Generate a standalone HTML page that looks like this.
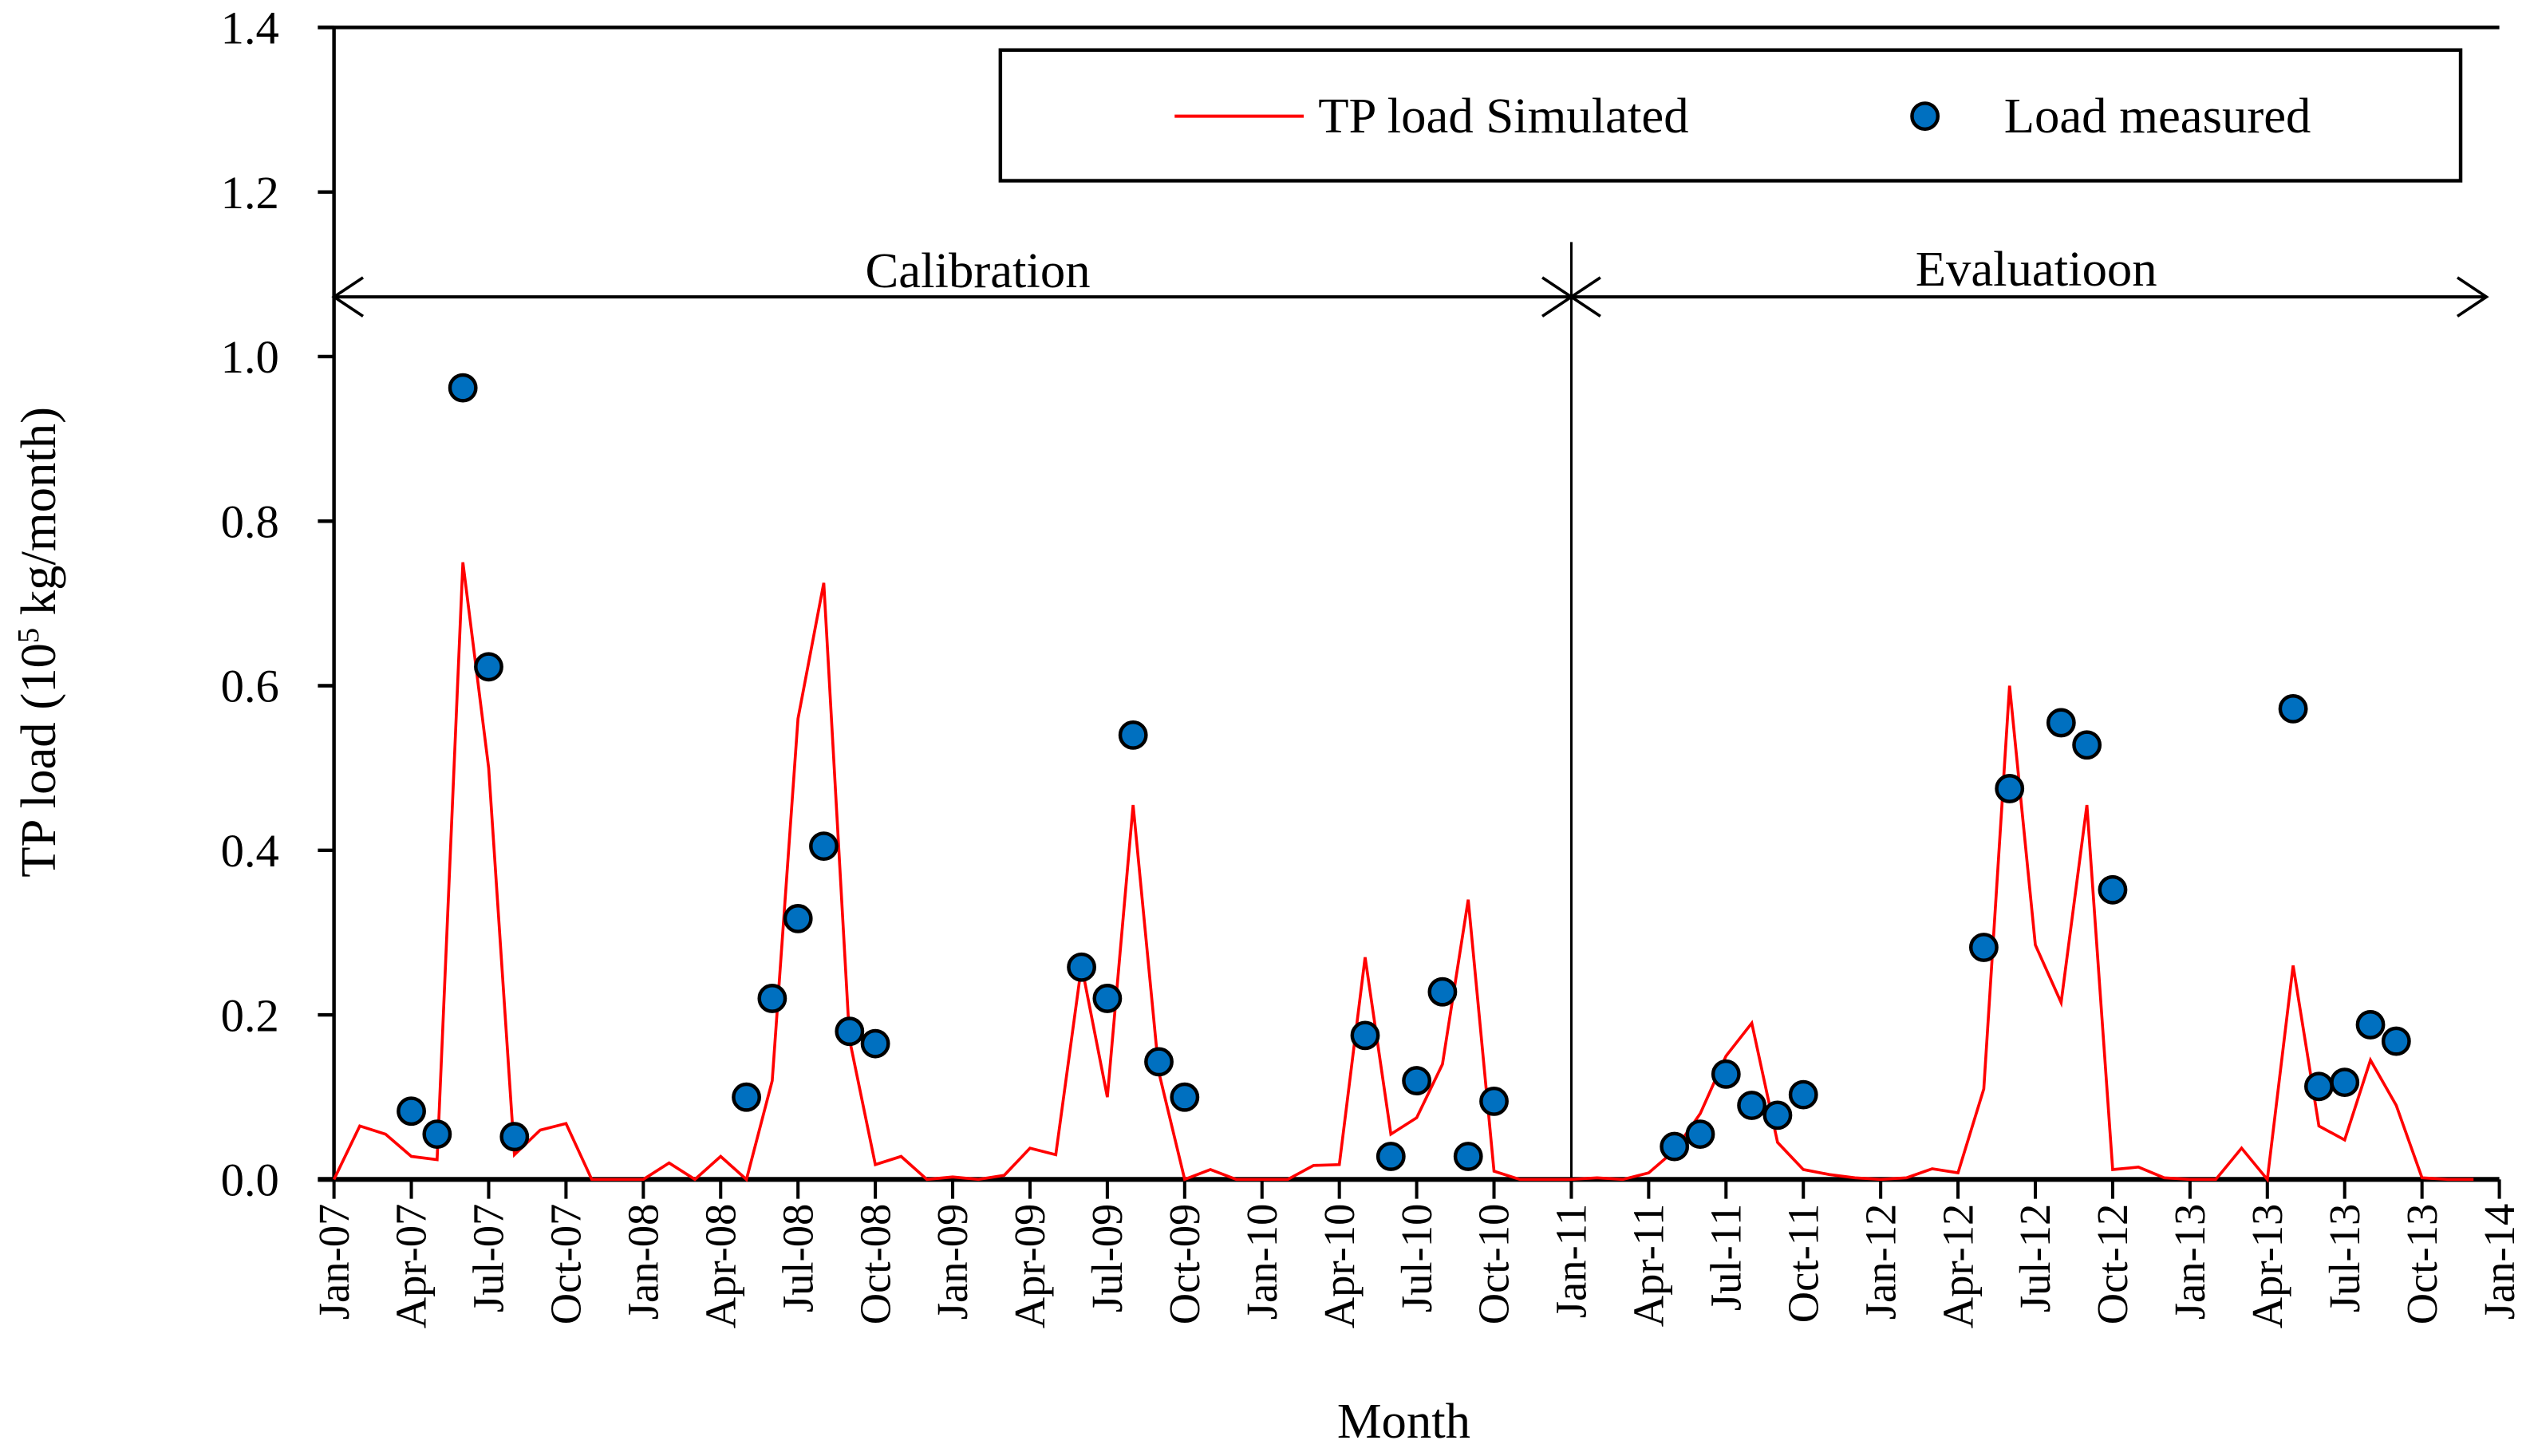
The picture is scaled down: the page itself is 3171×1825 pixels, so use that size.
<!DOCTYPE html>
<html><head><meta charset="utf-8"><style>html,body{margin:0;padding:0;background:#fff}svg{display:block}</style></head>
<body>
<svg width="3171" height="1825" viewBox="0 0 1568 902.4" xmlns="http://www.w3.org/2000/svg" font-family="'Liberation Serif', serif">
<g id="root"></g>
</svg>
<script>
const yearsShort = ['07','08','09','10','11','12','13','14'];
const monthNames = ['Jan','Apr','Jul','Oct'];
const simulated = [
0,0.065,0.055,0.028,0.024,0.75,0.5,0.03,0.06,0.068,0,0,
0,0.02,0,0.028,0,0.12,0.56,0.725,0.17,0.018,0.028,0,
0.003,0,0.005,0.038,0.03,0.26,0.1,0.455,0.13,0,0.012,0,
0,0,0.017,0.018,0.27,0.055,0.075,0.14,0.34,0.01,0,0,
0,0.002,0,0.008,0.035,0.08,0.15,0.19,0.045,0.012,0.006,0.002,
0,0.002,0.013,0.008,0.11,0.6,0.285,0.215,0.455,0.012,0.015,0.002,
0,0,0.038,0,0.26,0.065,0.048,0.145,0.09,0.002,0,0];
const measuredMonth = [3,4,5,6,7,16,17,18,19,20,21,29,30,31,32,33,40,41,42,43,44,45,52,53,54,55,56,57,64,65,67,68,69,76,77,78,79,80];
const measuredValue = [0.083,0.055,0.962,0.623,0.052,0.1,0.22,0.317,0.405,0.18,0.165,0.258,0.22,0.54,0.143,0.1,0.175,0.028,0.12,0.228,0.028,0.095,0.04,0.055,0.128,0.09,0.078,0.103,0.282,0.475,0.555,0.528,0.352,0.572,0.113,0.118,0.188,0.168];
const yTicks = ['0.0','0.2','0.4','0.6','0.8','1.0','1.2','1.4'];

const NS='http://www.w3.org/2000/svg';
const root=document.getElementById('root');
const X0=207,X1=1549,Y0=731,Y1=17;
const xs=i=>X0+(X1-X0)*i/84;
const ys=v=>Y0-(Y0-Y1)*v/1.4;
function mk(tag,attrs,parent){const e=document.createElementNS(NS,tag);for(const k in attrs)e.setAttribute(k,attrs[k]);(parent||root).appendChild(e);return e;}

let e=mk('line',{x1:X0,y1:Y1,x2:X0,y2:Y0,stroke:'#000','stroke-width':2.2});


e=mk('line',{x1:X0-10,y1:Y1,x2:X1,y2:Y1,stroke:'#000','stroke-width':2.2});


e=mk('line',{x1:X0-10,y1:Y0,x2:X1,y2:Y0,stroke:'#000','stroke-width':3});



yTicks.forEach((t,i)=>{
  const v=parseFloat(t);
  let l=mk('line',{x1:X0-10,y1:ys(v),x2:X0,y2:ys(v),stroke:'#000','stroke-width':2.2});
  
  
  let tx=mk('text',{x:173,y:ys(v)+10,'text-anchor':'end','font-size':29});
  tx.textContent=t;
  
  
});
for(let q=0;q<=28;q++){
  const i=q*3;const x=xs(i);
  let l=mk('line',{x1:x,y1:Y0,x2:x,y2:Y0+12,stroke:'#000','stroke-width':2});
  
  
  const lab=monthNames[q%4]+'-'+yearsShort[Math.floor(q/4)];
  let tx=mk('text',{x:0,y:0,'text-anchor':'end','font-size':27,transform:`translate(${x+9},${Y0+15}) rotate(-90)`});
  tx.textContent=lab;
  
  
}
e=mk('line',{x1:xs(48),y1:150,x2:xs(48),y2:Y0,stroke:'#000','stroke-width':1.5});


e=mk('line',{x1:X0,y1:184,x2:1540,y2:184,stroke:'#000','stroke-width':2});


[[X0,1],[xs(48),-1],[xs(48),1],[1541,-1]].forEach(([x,d])=>{
  let p=mk('path',{d:`M${x+d*18},${172} L${x},184 L${x+d*18},196`,fill:'none',stroke:'#000','stroke-width':1.8});
  
  
});
e=mk('text',{x:606,y:178,'text-anchor':'middle','font-size':31});e.textContent='Calibration';


e=mk('text',{x:1262,y:177,'text-anchor':'middle','font-size':31});e.textContent='Evaluatioon';



const pts=simulated.map((v,i)=>xs(i).toFixed(2)+','+ys(v).toFixed(2)).join(' ');
e=mk('polyline',{points:pts,fill:'none',stroke:'#ff0000','stroke-width':1.8,'stroke-linejoin':'miter'});


measuredMonth.forEach((m,k)=>{
  let c=mk('circle',{cx:xs(m),cy:ys(measuredValue[k]),r:8,fill:'#0070c0',stroke:'#000','stroke-width':2.2});
  
  
});

const lg=mk('g',{});


e=mk('rect',{x:620,y:31,width:905,height:81,fill:'#fff',stroke:'#000','stroke-width':2.2},lg);


e=mk('line',{x1:728,y1:72,x2:808,y2:72,stroke:'#ff0000','stroke-width':2},lg);


e=mk('text',{x:817,y:82,'font-size':31},lg);e.textContent='TP load Simulated';


e=mk('circle',{cx:1193,cy:72,r:8,fill:'#0070c0',stroke:'#000','stroke-width':2.2},lg);


e=mk('text',{x:1242,y:82,'font-size':31},lg);e.textContent='Load measured';



e=mk('text',{x:870,y:891,'text-anchor':'middle','font-size':31});e.textContent='Month';


e=mk('text',{x:0,y:0,'text-anchor':'middle','font-size':31,transform:'translate(34,398) rotate(-90)'});
e.innerHTML='TP load (10<tspan baseline-shift="super" font-size="19">5</tspan> kg/month)';


</script>
</body></html>
